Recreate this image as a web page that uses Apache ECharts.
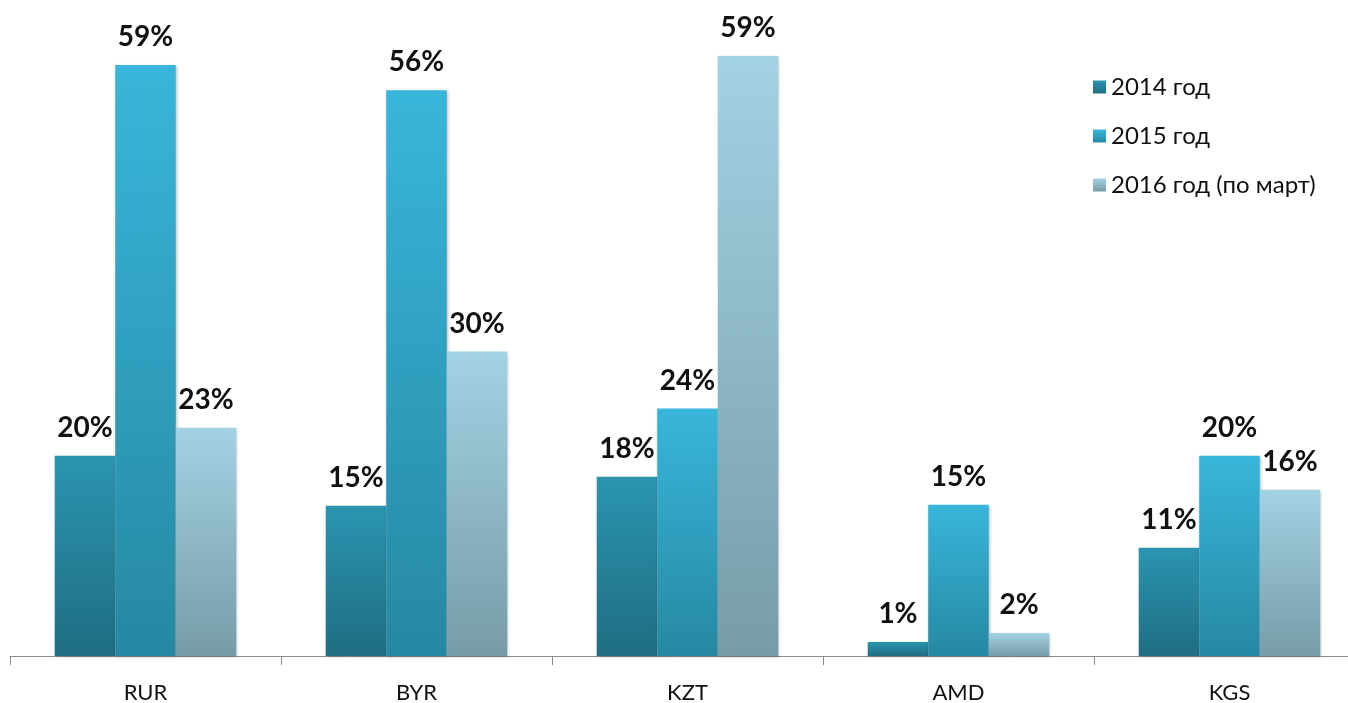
<!DOCTYPE html>
<html><head><meta charset="utf-8">
<script src="https://cdn.jsdelivr.net/npm/echarts@6/dist/echarts.min.js"></script>
<style>html,body{margin:0;padding:0;background:#fff}#c{width:1348px;height:703px}</style>
</head><body><div id="c"></div>
<script>
const categories = ['RUR', 'BYR', 'KZT', 'AMD', 'KGS'];
const seriesNames = ['2014 год', '2015 год', '2016 год (по март)'];
// bar heights as drawn in the picture (percent)
const values2014 = [20.0, 15.0, 17.9, 1.4, 10.8];
const values2015 = [59.0, 56.5, 24.7, 15.1, 20.0];
const values2016 = [22.8, 30.4, 59.9, 2.3, 16.6];
// labels as printed
const labels2014 = ['20%', '15%', '18%', '1%', '11%'];
const labels2015 = ['59%', '56%', '24%', '15%', '20%'];
const labels2016 = ['23%', '30%', '59%', '2%', '16%'];

const FONT = 'Lato, "Open Sans", sans-serif';
function grad(top, bottom) {
  return new echarts.graphic.LinearGradient(0, 0, 0, 1, [
    {offset: 0, color: top}, {offset: 1, color: bottom}
  ]);
}
const colors = [
  grad('#2b95b0', '#1f6d82'),
  grad('#39b6db', '#2688a2'),
  grad('#a3d2e3', '#779ca9')
];
const allValues = [values2014, values2015, values2016];
const allLabels = [labels2014, labels2015, labels2016];

const chart = echarts.init(document.getElementById('c'));
chart.setOption({
  animation: false,
  grid: {left: 10, width: 1355, top: 5, bottom: 47, containLabel: false, outerBoundsMode: 'none'},
  legend: {
    orient: 'vertical', left: 1088, top: 70, itemGap: 25,
    icon: 'rect', itemWidth: 13, itemHeight: 13,
    textStyle: {fontFamily: FONT, fontSize: 24, color: '#111', padding: [0, 0, 0, 0]},
    data: seriesNames
  },
  xAxis: {
    type: 'category', data: categories,
    axisLine: {lineStyle: {color: '#8c8c8c', width: 1}},
    axisTick: {show: true, length: 9, lineStyle: {color: '#8c8c8c'}},
    axisLabel: {fontFamily: FONT, fontSize: 22, color: '#111', margin: 26}
  },
  yAxis: {type: 'value', min: 0, max: 65, show: false, splitLine: {show: false}},
  series: seriesNames.map((n, i) => ({
    name: n, type: 'bar',
    data: allValues[i],
    barGap: '0%', barCategoryGap: '33%',
    itemStyle: {
      color: colors[i],
      shadowColor: 'rgba(0,0,0,0.25)', shadowBlur: 3, shadowOffsetX: 1, shadowOffsetY: 1
    },
    label: {
      show: true, position: 'top', distance: 14,
      fontFamily: FONT, fontSize: 28, fontWeight: 'bold', color: '#111',
      formatter: p => allLabels[i][p.dataIndex]
    }
  }))
});
</script></body></html>
